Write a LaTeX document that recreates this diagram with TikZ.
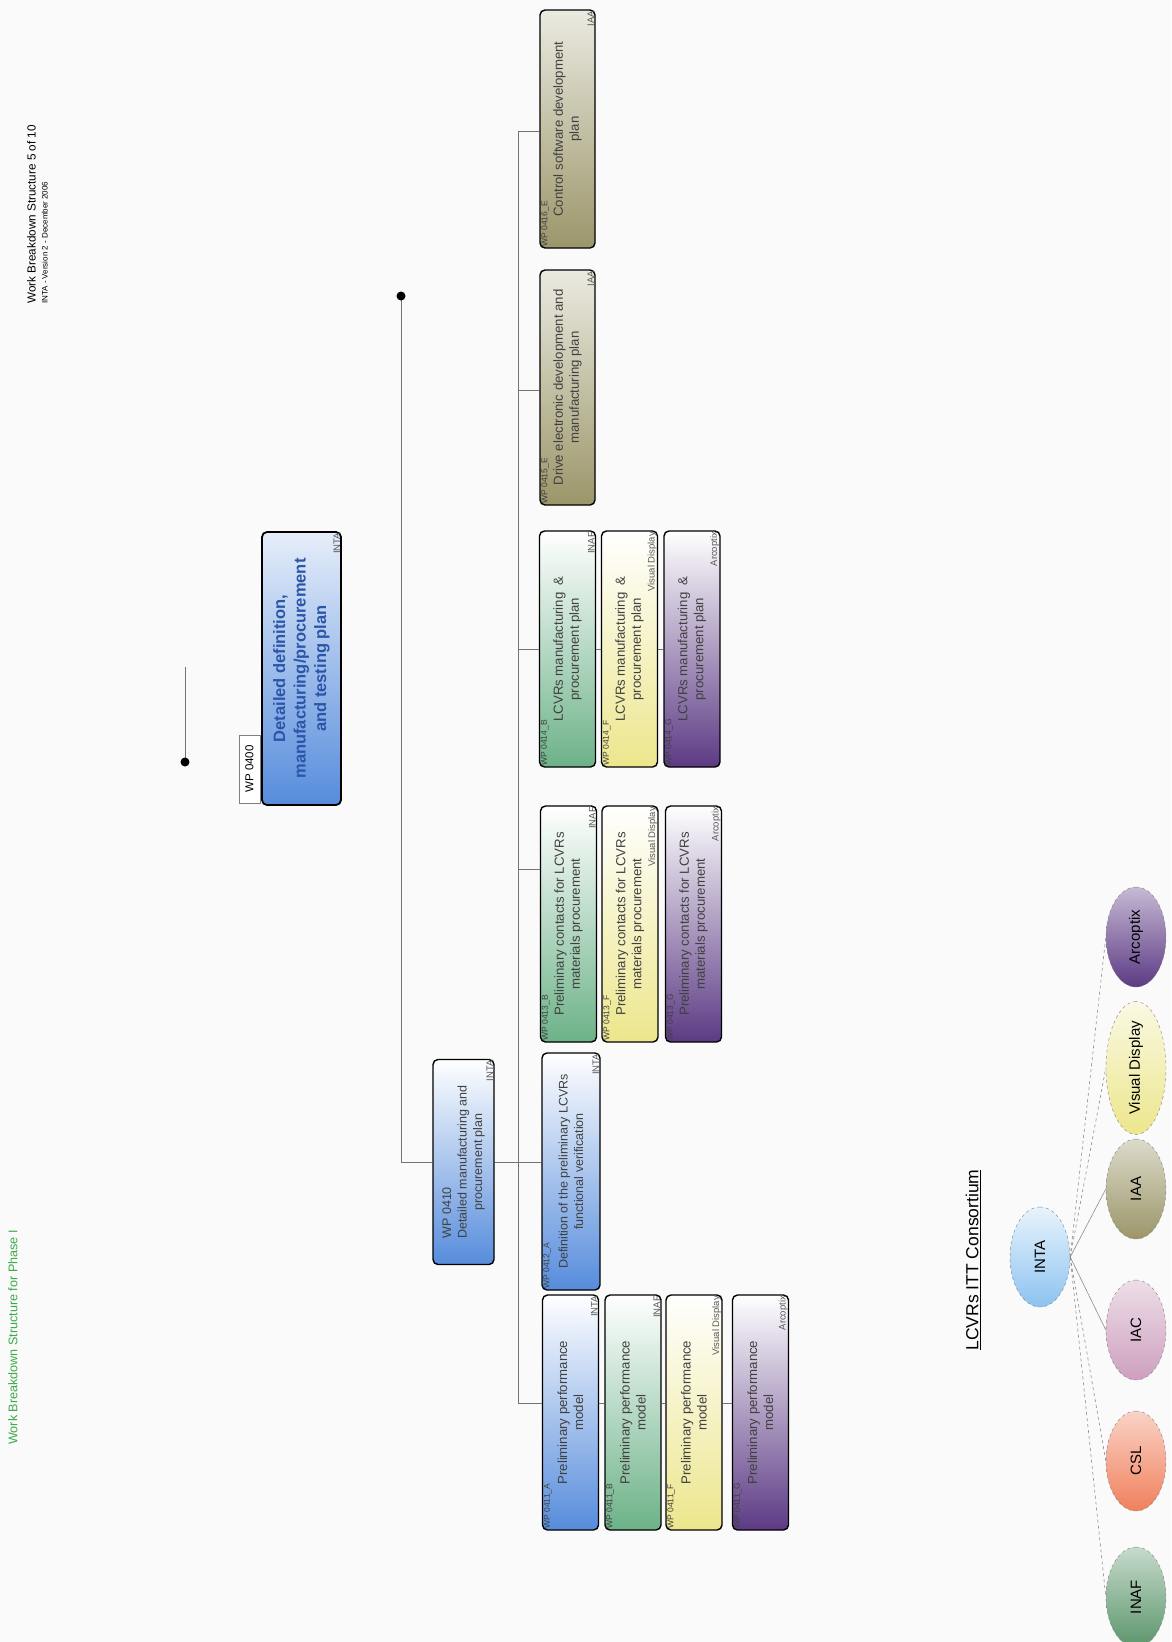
\documentclass[tikz,border=0pt]{standalone}
\usepackage{fontspec}
\setmainfont{Liberation Sans}
\usetikzlibrary{shapes.geometric}

\definecolor{cblue}{RGB}{86,140,220}
\definecolor{cgreen}{RGB}{108,178,136}
\definecolor{cyellow}{RGB}{236,230,140}
\definecolor{cpurple}{RGB}{92,58,132}
\definecolor{colive}{RGB}{155,150,105}
\definecolor{cinta}{RGB}{140,195,240}
\definecolor{ciac}{RGB}{205,160,190}
\definecolor{ccsl}{RGB}{240,128,92}
\definecolor{cinaf}{RGB}{92,150,108}
\definecolor{ctitle}{RGB}{43,85,168}
\definecolor{cphase}{RGB}{60,170,72}

\tikzset{
  wpbox/.style={rotate=90, draw=black, line width=1.4pt, rounded corners=5pt,
    align=center, text=black!75, inner sep=2pt,
    font=\fontsize{13.2}{16}\selectfont},
  wplabel/.style={rotate=90, anchor=north west, inner sep=2pt, text=black!75,
    font=\fontsize{8.5}{9}\selectfont},
  owner/.style={rotate=90, anchor=south east, inner sep=1.5pt, text=black!65,
    font=\fontsize{9.5}{10}\selectfont},
  partner/.style={ellipse, rotate=90, draw=black!50, dashed, minimum width=100,
    minimum height=60, inner sep=0pt, font=\fontsize{15}{18}\selectfont},
  branch/.style={draw=black!55, line width=0.6pt},
  link/.style={draw=black!45, line width=0.6pt}
}

\begin{document}
\begin{tikzpicture}[x=1pt, y=-1pt]
    \useasboundingbox (0,0) rectangle (1171,1642);
    \fill [gray!4] (0,0) rectangle (1171,1642);

    % headers
    \node [rotate=90, anchor=north west, align=left, inner sep=0pt,
      font=\fontsize{11.7}{12}\selectfont] (head) at (27,304)
      {Work Breakdown Structure 5 of 10\\{\fontsize{8}{8}\selectfont INTA - Version 2 - December 2006}};
    \node [rotate=90, anchor=north west, inner sep=0pt, text=cphase,
      font=\fontsize{12.6}{14}\selectfont] (phase) at (8,1445)
      {Work Breakdown Structure for Phase I};

    % root
    \node [wpbox, line width=1.8pt, top color=cblue!15!white, bottom color=cblue,
      minimum width=273, minimum height=79, text=ctitle,
      font=\fontsize{16.5}{20.5}\selectfont\bfseries] (w400) at (301.5,668.5)
      {Detailed definition,\\manufacturing/procurement\\and testing plan};
    \node [owner] at (w400.south east) {INTA};
    \node [rotate=90, draw=black!50, fill=white, minimum width=68, minimum height=21,
      inner sep=1pt, font=\fontsize{11.5}{12}\selectfont] (tab400) at (249.5,769) {WP 0400};
    \coordinate (r0) at (185,762);
    \coordinate (r1) at (185,667);
    \draw [branch] (r0) -- (r1);
    \fill (r0) circle (4.5);

    % WP 0410
    \node [wpbox, top color=white, bottom color=cblue,
      minimum width=205, minimum height=61, font=\fontsize{12.5}{15.5}\selectfont] (w410) at (463.5,1162)
      {\rlap{WP 0410}\hphantom{Detailed manufacturing and}\\Detailed manufacturing and\\procurement plan};
    \node [owner] at (w410.south east) {INTA};
    \coordinate (d0) at (401,296);
    \draw [branch] (d0) |- (w410);
    \fill (d0) circle (4.5);

    % spine
    \coordinate (s16) at (518,131);
    \coordinate (s15) at (518,390);
    \coordinate (s14) at (518,649);
    \coordinate (s13) at (518,869);
    \coordinate (s12) at (518,1162);
    \coordinate (s11) at (518,1403);
    \draw [branch] (s16) -- (s11);
    \draw [branch] (w410.south) -- (s12);

    % WP 0411
    \foreach \nm/\xc/\col/\tag/\who in {A11/570.5/cblue/A/INTA, B11/633/cgreen/B/INAF,
        F11/694/cyellow/F/Visual Display, G11/760.5/cpurple/G/Arcoptix}{
      \node [wpbox, top color=white, bottom color=\col, minimum width=235,
        minimum height=56] (\nm) at (\xc,1412.5) {Preliminary performance\\model};
      \node [wplabel] at (\nm.north west) {WP 0411\_\tag};
      \node [owner] at (\nm.south east) {\who};
    }
    \draw [branch] (s11) -- (s11 -| A11.north);
    \draw [branch] (A11.south |- s11) -- (B11.north |- s11);
    \draw [branch] (B11.south |- s11) -- (F11.north |- s11);
    \draw [branch] (F11.south |- s11) -- (G11.north |- s11);

    % WP 0412
    \node [wpbox, top color=white, bottom color=cblue, minimum width=237,
      minimum height=58, font=\fontsize{12.5}{15.5}\selectfont] (A12) at (571,1171.5)
      {Definition of the preliminary LCVRs\\functional verification};
    \node [wplabel] at (A12.north west) {WP 0412\_A};
    \node [owner] at (A12.south east) {INTA};
    \draw [branch] (s12) -- (s12 -| A12.north);

    % WP 0413
    \foreach \nm/\xc/\col/\tag/\who in {B13/568.5/cgreen/B/INAF,
        F13/630/cyellow/F/Visual Display, G13/693.5/cpurple/G/Arcoptix}{
      \node [wpbox, top color=white, bottom color=\col, minimum width=236,
        minimum height=56] (\nm) at (\xc,924) {Preliminary contacts for LCVRs\\materials procurement};
      \node [wplabel] at (\nm.north west) {WP 0413\_\tag};
      \node [owner] at (\nm.south east) {\who};
    }
    \draw [branch] (s13) -- (s13 -| B13.north);

    % WP 0414
    \foreach \nm/\xc/\col/\tag/\who in {B14/567.5/cgreen/B/INAF,
        F14/629.5/cyellow/F/Visual Display, G14/692/cpurple/G/Arcoptix}{
      \node [wpbox, top color=white, bottom color=\col, minimum width=236,
        minimum height=56] (\nm) at (\xc,649) {LCVRs manufacturing \ \&\\procurement plan};
      \node [wplabel] at (\nm.north west) {WP 0414\_\tag};
      \node [owner] at (\nm.south east) {\who};
    }
    \draw [branch] (s14) -- (s14 -| B14.north);
    \draw [branch] (B14.south |- s14) -- (F14.north |- s14);
    \draw [branch] (F14.south |- s14) -- (G14.north |- s14);

    % WP 0415 / 0416
    \node [wpbox, top color=colive!20!white, bottom color=colive, minimum width=235,
      minimum height=55] (E15) at (567.5,387.5)
      {Drive electronic development and\\manufacturing plan};
    \node [wplabel] at (E15.north west) {WP 0415\_E};
    \node [owner] at (E15.south east) {IAA};
    \draw [branch] (s15) -- (s15 -| E15.north);
    \node [wpbox, top color=colive!20!white, bottom color=colive, minimum width=238,
      minimum height=55] (E16) at (567.5,129)
      {Control software development\\plan};
    \node [wplabel] at (E16.north west) {WP 0416\_E};
    \node [owner] at (E16.south east) {IAA};
    \draw [branch] (s16) -- (s16 -| E16.north);

    % consortium
    \node [rotate=90, font=\fontsize{17.5}{20}\selectfont] (cons) at (973,1260)
      {\underline{LCVRs ITT Consortium}};
    \node [partner, top color=cinta!20!white, bottom color=cinta] (inta) at (1040,1257) {INTA};
    \node [partner, top color=cpurple!35!white, bottom color=cpurple] (arc) at (1136,937) {Arcoptix};
    \node [partner, top color=cyellow!25!white, bottom color=cyellow] (vis) at (1136,1068) {Visual Display};
    \node [partner, top color=colive!35!white, bottom color=colive] (iaa) at (1136,1189) {IAA};
    \node [partner, top color=ciac!35!white, bottom color=ciac] (iac) at (1136,1330) {IAC};
    \node [partner, top color=ccsl!35!white, bottom color=ccsl] (csl) at (1136,1461) {CSL};
    \node [partner, top color=cinaf!35!white, bottom color=cinaf] (inaf) at (1136,1597) {INAF};
    \draw [link] (inta.south) -- (iaa.north);
    \draw [link] (inta.south) -- (iac.north);
    \draw [link, dashed] (inta.south) -- (arc.north);
    \draw [link, dashed] (inta.south) -- (vis.north);
    \draw [link, dashed] (inta.south) -- (csl.north);
    \draw [link, dashed] (inta.south) -- (inaf.north);
\end{tikzpicture}
\end{document}
